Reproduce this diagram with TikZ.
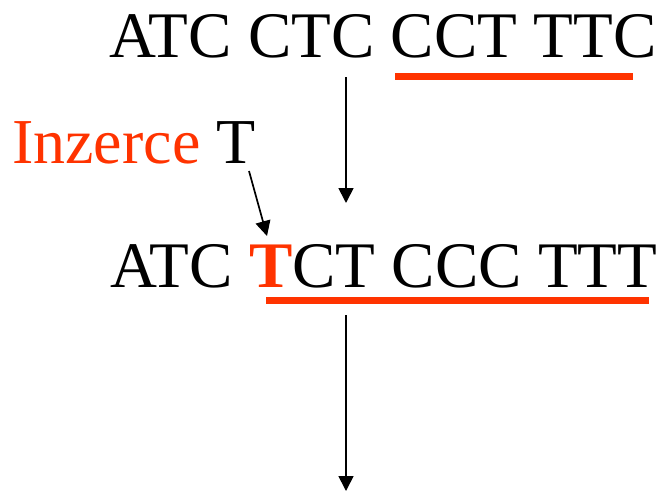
\documentclass[tikz,border=0pt]{standalone}
\usepackage{fontspec}
\setmainfont{Liberation Serif}
\usetikzlibrary{arrows.meta}
\definecolor{mutred}{RGB}{255,51,0}
\begin{document}
\begin{tikzpicture}[x=1pt,y=-1pt,
  seq/.style={inner sep=0pt,anchor=base west,font=\fontsize{65}{70}\selectfont},
  arr/.style={line width=1.7pt,-{Triangle[width=15pt,length=15pt]}},
  uline/.style={line width=7pt,draw=mutred}]
\useasboundingbox (0,0) rectangle (664,491);
\node[seq] (l1) at (109,57) {ATC CTC CCT TTC};
\node[seq,font=\fontsize{64}{70}\selectfont] (lab) at (12,163) {\textcolor{mutred}{Inzerce} T};
\node[seq] (l2) at (110,287) {ATC \textcolor{mutred}{\bfseries T}CT CCC TTT};
\coordinate (u1a) at (395,76.5);
\coordinate (u1b) at (633,76.5);
\coordinate (u2a) at (266,300.5);
\coordinate (u2b) at (649,300.5);
\draw[uline] (u1a) -- (u1b);
\draw[uline] (u2a) -- (u2b);
\coordinate (a1s) at (346,77);
\coordinate (a1e) at (346,203);
\coordinate (a2s) at (346,315);
\coordinate (a2e) at (346,491);
\coordinate (a3s) at (249,171);
\coordinate (a3e) at (267,236);
\draw[arr] (a1s) -- (a1e);
\draw[arr] (a2s) -- (a2e);
\draw[arr] (a3s) -- (a3e);
\end{tikzpicture}
\end{document}
